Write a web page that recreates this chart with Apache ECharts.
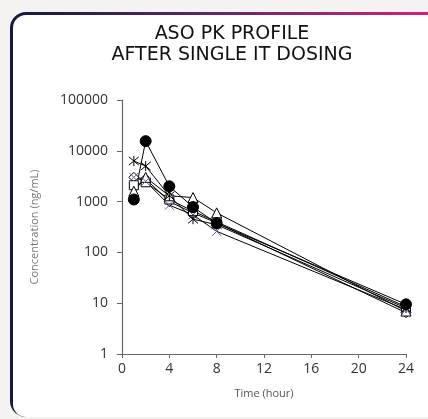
<!DOCTYPE html>
<html>
<head>
<meta charset="utf-8">
<script src="https://cdn.jsdelivr.net/npm/echarts@6/dist/echarts.min.js"></script>
<style>
  html, body { margin: 0; padding: 0; background: #f4f3f1; width: 428px; height: 419px; overflow: hidden; }
  .card {
    position: absolute; left: 10px; top: 12px; width: 440px; height: 405px;
    background: linear-gradient(90deg, #15183c 0%, #5a2a6a 45%, #e01f7c 100%);
    border-radius: 16px 0 0 16px; padding: 3px 0 0 3px; box-sizing: border-box;
  }
  .card-in { width: 100%; height: 100%; background: #fff; border-radius: 13px 0 0 13px; }
  #chart { position: absolute; left: 0; top: 0; width: 428px; height: 419px; }
</style>
</head>
<body>
<div class="card"><div class="card-in"></div></div>
<div id="chart"></div>
<script>
// sampling times (hour)
var times = [1, 2, 4, 6, 8, 24]
// concentrations (ng/mL), one array per animal
var diamondVals = [3000, 2800, 1000, 600, 380, 6.5]
var squareVals = [2100, 2400, 1100, 650, 400, 8.5]
var triangleVals = [1600, 3000, 1300, 1200, 600, 7]
var crossVals = [3000, 2500, 850, 550, 260, 7.5]
var starVals = [6300, 5000, 1300, 450, 350, 8]
var circleVals = [1100, 15500, 2000, 780, 375, 9.5]
var xTicks = [0, 4, 8, 12, 16, 20, 24]

var chart = echarts.init(document.getElementById('chart'))

function pairs (vals) {
  var out = []
  for (var i = 0; i < times.length; i++) {
    out.push([times[i], vals[i]])
  }
  return out
}

function mkSeries (name, vals, symbol, size, fill, stroke) {
  return {
    name: name,
    type: 'line',
    data: pairs(vals),
    symbol: symbol,
    symbolSize: size,
    showSymbol: true,
    lineStyle: { color: '#000', width: 1 },
    itemStyle: { color: fill, borderColor: stroke, borderWidth: 1 },
    emphasis: { disabled: true },
    z: 3
  }
}

var xPath = 'path://M0,0L10,10M10,0L0,10'
var starPath = 'path://M0,0L10,10M10,0L0,10M5,-1L5,11'

var option = {
  animation: false,
  backgroundColor: 'transparent',
  title: {
    text: 'ASO PK PROFILE\nAFTER SINGLE IT DOSING',
    left: 227,
    top: 19,
    textAlign: 'center',
    textStyle: { fontFamily: 'DejaVu Sans', fontWeight: 'normal', fontSize: 19, color: '#111', lineHeight: 21 }
  },
  grid: { left: 122, right: 22, top: 100, bottom: 65 },
  xAxis: {
    type: 'value',
    min: 0,
    max: 24,
    interval: 4,
    name: 'Time (hour)',
    nameLocation: 'middle',
    nameGap: 34,
    nameTextStyle: { fontFamily: 'Open Sans', fontSize: 11, color: '#555' },
    axisLine: { lineStyle: { color: '#666', width: 1.2 } },
    axisTick: { show: true, inside: false, length: 4, lineStyle: { color: '#666' } },
    axisLabel: { fontFamily: 'Open Sans', fontSize: 14, color: '#333', margin: 8,
      formatter: function (v) { return xTicks.indexOf(v) >= 0 ? String(v) : '' } },
    splitLine: { show: false }
  },
  yAxis: {
    type: 'log',
    logBase: 10,
    min: 1,
    max: 100000,
    name: 'Concentration (ng/mL)',
    nameLocation: 'middle',
    nameGap: 82,
    nameTextStyle: { fontFamily: 'Open Sans', fontSize: 11, color: '#777' },
    axisLine: { show: true, lineStyle: { color: '#666', width: 1.2 } },
    axisTick: { show: true, length: 5, lineStyle: { color: '#666' } },
    axisLabel: { fontFamily: 'Open Sans', fontSize: 14, color: '#333', margin: 14,
      formatter: function (v) { return String(Math.round(v)) } },
    splitLine: { show: false }
  },
  series: [
    mkSeries('A', diamondVals, 'diamond', 10, '#fff', '#000'),
    mkSeries('B', squareVals, 'rect', 9, '#fff', '#000'),
    mkSeries('C', triangleVals, 'triangle', 10, '#fff', '#000'),
    mkSeries('D', crossVals, xPath, 9, 'none', '#6b5a9c'),
    mkSeries('E', starVals, starPath, 10, 'none', '#000'),
    mkSeries('F', circleVals, 'circle', 11, '#000', '#000')
  ]
}

chart.setOption(option)
</script>
</body>
</html>
